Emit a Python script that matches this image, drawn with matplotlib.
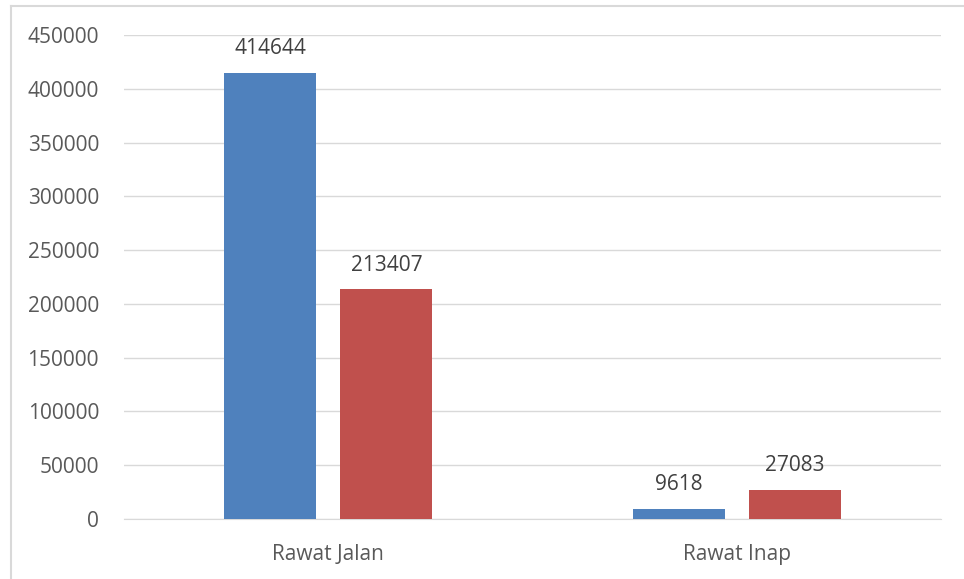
import matplotlib.pyplot as plt
from matplotlib.lines import Line2D
import numpy as np

# data
categories = ['Rawat Jalan', 'Rawat Inap']
series_a = [414644, 9618]
series_b = [213407, 27083]

plt.rcParams['font.family'] = ['Open Sans', 'DejaVu Sans']

fig = plt.figure(figsize=(9.64, 5.79), dpi=100)
ax = fig.add_axes([0.1286, 0.1036, 0.8476, 0.836])

# chart border, only top and left show (cropped screenshot)
top = 1 - 6 / 579
left = 10.5 / 964
fig.add_artist(Line2D([left, 1], [top, top], transform=fig.transFigure,
                      color='#d9d9d9', linewidth=1.5))
fig.add_artist(Line2D([left, left], [0, top], transform=fig.transFigure,
                      color='#d9d9d9', linewidth=1.5))

x = np.arange(len(categories))
w = 0.225
off = 0.1425
bars_a = ax.bar(x - off, series_a, width=w, color='#4f81bd', zorder=3)
bars_b = ax.bar(x + off, series_b, width=w, color='#c0504d', zorder=3)
ax.bar_label(bars_a, padding=10, fontsize=15, color='#404040')
ax.bar_label(bars_b, padding=10, fontsize=15, color='#404040')

ax.set_xlim(-0.5, 1.5)
ax.set_ylim(0, 450000)
ax.set_yticks(range(0, 450001, 50000))
ax.set_xticks(x)
ax.set_xticklabels(categories)
ax.tick_params(axis='both', length=0, labelsize=15, labelcolor='#595959')
ax.tick_params(axis='y', pad=18)
ax.tick_params(axis='x', pad=18)
ax.yaxis.grid(True, color='#d9d9d9', linewidth=1, zorder=0)
for s in ['top', 'right', 'left']:
    ax.spines[s].set_visible(False)
ax.spines['bottom'].set_color('#d9d9d9')

fig.savefig('out.png', dpi=100)
